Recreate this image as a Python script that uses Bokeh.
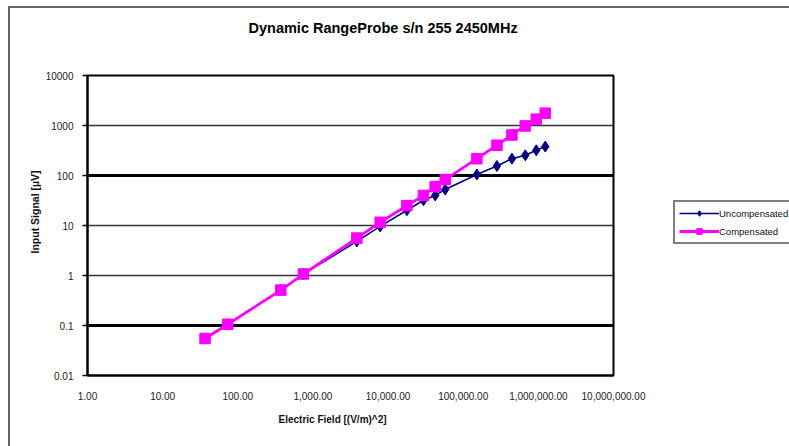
from bokeh.plotting import figure
from bokeh.models import FixedTicker, Grid, Legend, LegendItem, Title
from bokeh.embed import file_html
from bokeh.resources import INLINE

# ---- data ----
title_text = "Dynamic RangeProbe s/n 255 2450MHz"
x_title = "Electric Field [(V/m)^2]"
y_title = "Input Signal [µV]"

e_field_sq = [36.7, 73.6, 374, 748, 3840, 7850, 17800, 29600, 42400, 57600,
              152000, 281000, 445000, 670000, 938000, 1236000]
uncompensated = [0.055, 0.106, 0.51, 1.07, 4.8, 9.6, 20.2, 32, 40, 52.6,
                 105, 155, 217, 253, 319, 379]
compensated = [0.055, 0.106, 0.51, 1.07, 5.6, 11.6, 25, 40, 60, 83,
               217, 402, 647, 981, 1340, 1766]

x_ticks = [1, 10, 100, 1000, 10000, 100000, 1000000, 10000000]
x_tick_labels = ["1.00", "10.00", "100.00", "1,000.00", "10,000.00",
                 "100,000.00", "1,000,000.00", "10,000,000.00"]
y_ticks = [0.01, 0.1, 1, 10, 100, 1000, 10000]
y_tick_labels = ["0.01", "0.1", "1", "10", "100", "1000", "10000"]
thick_grid = [0.1, 100, 10000]
thin_grid = [1, 10, 1000]

FONT = "Liberation Sans"

p = figure(frame_width=526, frame_height=300, x_axis_type="log", y_axis_type="log",
           x_range=(1, 1e7), y_range=(0.01, 1e4),
           output_backend="svg", toolbar_location=None,
           min_border_left=77, min_border_right=176,
           min_border_top=67, min_border_bottom=71,
           title=None)
p.styles = {"margin-left": "8px", "margin-top": "6px",
            "border-left": "2px solid #666666", "border-top": "2px solid #666666"}
p.background_fill_color = "white"
p.border_fill_color = "white"
p.outline_line_color = "black"
p.outline_line_width = 2

p.xgrid.visible = False
p.ygrid.visible = False
p.add_layout(Grid(dimension=1, ticker=FixedTicker(ticks=thin_grid),
                  grid_line_color="#333333", grid_line_width=1.6))
p.add_layout(Grid(dimension=1, ticker=FixedTicker(ticks=thick_grid),
                  grid_line_color="black", grid_line_width=3))

# axes
xa = p.xaxis[0]
xa.ticker = FixedTicker(ticks=x_ticks)
xa.major_label_overrides = {t: l for t, l in zip(x_ticks, x_tick_labels)}
xa.major_tick_out = 0
xa.major_tick_in = 0
xa.minor_tick_out = 0
xa.minor_tick_in = 0
xa.major_label_standoff = 16
xa.axis_line_color = "black"
xa.axis_line_width = 2
xa.major_label_text_font = FONT
xa.major_label_text_font_size = "10px"
xa.major_label_text_color = "#222222"

ya = p.yaxis[0]
ya.ticker = FixedTicker(ticks=y_ticks)
ya.major_label_overrides = {t: l for t, l in zip(y_ticks, y_tick_labels)}
ya.major_tick_out = 5
ya.major_tick_in = 0
ya.major_tick_line_width = 1.5
ya.minor_tick_out = 0
ya.minor_tick_in = 0
ya.major_label_standoff = 9
ya.axis_line_color = "black"
ya.axis_line_width = 2
ya.major_label_text_font = FONT
ya.major_label_text_font_size = "10px"
ya.major_label_text_color = "#222222"

# series
r1l = p.line(e_field_sq, uncompensated, line_color="#000080", line_width=1.6)
r1m = p.scatter(e_field_sq, uncompensated, marker="diamond", size=11,
                fill_color="#000080", line_color="#000080")
r2l = p.line(e_field_sq, compensated, line_color="#FF00FF", line_width=2.8)
r2m = p.scatter(e_field_sq, compensated, marker="square", size=10.5,
                fill_color="#FF00FF", line_color="#FF00FF")

legend = Legend(items=[LegendItem(label="Uncompensated", renderers=[r1l, r1m]),
                       LegendItem(label="Compensated", renderers=[r2l, r2m])],
                location=(60, 131), orientation="vertical",
                border_line_color="black", border_line_width=2,
                background_fill_color="white", background_fill_alpha=1,
                label_text_font=FONT, label_text_font_size="9.5px",
                label_text_color="#111111",
                glyph_width=40, glyph_height=14, label_height=14,
                label_standoff=0, spacing=4, padding=4, margin=0)
p.add_layout(legend, "right")

# titles (a blank spacer title sits between the frame and the chart title)
p.add_layout(Title(text=" ", standoff=27, text_font=FONT,
                   text_font_size="10px"), "above")
p.add_layout(Title(text=title_text, align="left", offset=161, standoff=0,
                   text_font=FONT, text_font_size="14.5px",
                   text_font_style="bold", text_color="black"), "above")
p.add_layout(Title(text=x_title, align="left", offset=191, standoff=19,
                   text_font=FONT, text_font_size="10px",
                   text_font_style="bold", text_color="#111111"), "below")
p.add_layout(Title(text=y_title, align="left", offset=122, standoff=4,
                   text_font=FONT, text_font_size="10.5px",
                   text_font_style="bold", text_color="#111111"), "left")

open("out.html", "w").write(file_html(p, INLINE))
